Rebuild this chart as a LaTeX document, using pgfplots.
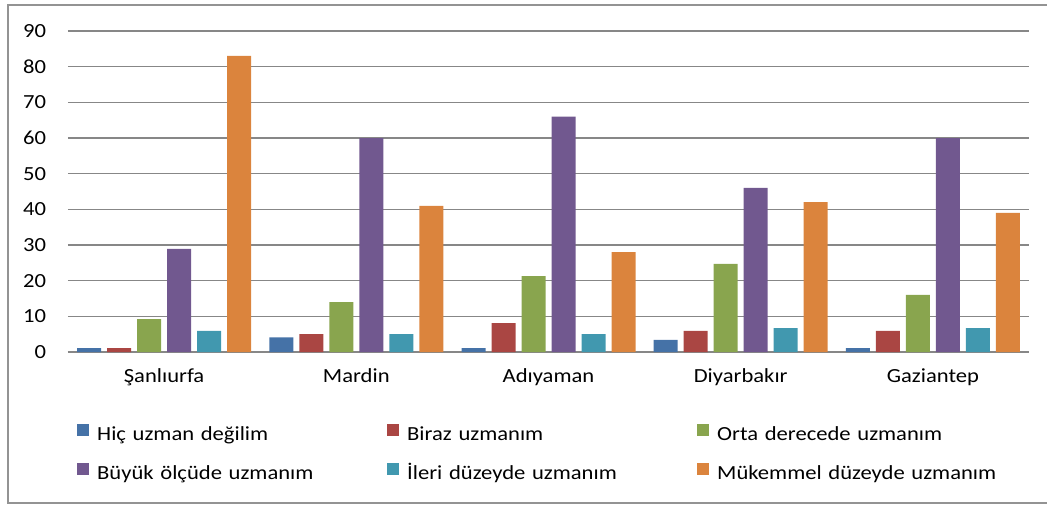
\documentclass[border=0pt]{standalone}
\usepackage{pgfplots}
\pgfplotsset{compat=1.18}
\usepackage{fontspec}
\setmainfont{Carlito}[FakeStretch=1.13]
\definecolor{c1}{HTML}{4572A7}
\definecolor{c2}{HTML}{AA4643}
\definecolor{c3}{HTML}{89A54E}
\definecolor{c4}{HTML}{71588F}
\definecolor{c5}{HTML}{4198AF}
\definecolor{c6}{HTML}{DB843D}
\definecolor{gridc}{HTML}{878787}
\begin{document}
\fontsize{20}{24}\selectfont
\begin{tikzpicture}[x=1pt,y=1pt]
\path[use as bounding box] (0,0) rectangle (1047,504);
\draw[color=gridc!90, line width=1.5pt] (1047,499) -- (8,499) -- (8,1) -- (1047,1);
\begin{axis}[
  at={(68pt,152pt)}, anchor=south west,
  scale only axis, width=961pt, height=321pt,
  xmin=-0.5, xmax=4.5, ymin=0, ymax=90,
  ybar=6pt, bar width=24pt,
  xtick=data, xticklabels={Şanlıurfa,Mardin,Adıyaman,Diyarbakır,Gaziantep},
  ytick={0,10,...,90},
  major tick length=0pt,
  ymajorgrids, grid style={draw=gridc, line width=1.3pt},
  axis x line*=bottom, axis y line*=left,
  x axis line style={draw=gridc, line width=1.3pt, -},
  y axis line style={draw=none},
  /pgf/number format/assume math mode=true,
  tick label style={font=\fontsize{20}{24}\selectfont, text=black},
  xticklabel style={yshift=-10pt},
  yticklabel style={xshift=-15pt},
  legend columns=3,
  legend cell align=left,
  legend style={at={(axis description cs:0,0)}, anchor=north west, xshift=9pt, yshift=-72pt,
    draw=none, fill=none, inner sep=0pt, row sep=17pt,
    font=\fontsize{20}{24}\selectfont,
    nodes={inner sep=0pt, text height=14pt, text depth=5pt, text width=282pt, align=left}},
  /tikz/every odd column/.append style={column sep=8pt},
  /tikz/every even column/.append style={column sep=8pt},
  legend image code/.code={\fill[#1] (0pt,0pt) rectangle (12pt,12pt);},
]
\addplot[fill=c1, draw=none] coordinates {(0,1.1) (1,4.1) (2,1.1) (3,3.4) (4,1.1)};
\addplot[fill=c2, draw=none] coordinates {(0,1.1) (1,5.0) (2,8.1) (3,5.9) (4,5.9)};
\addplot[fill=c3, draw=none] coordinates {(0,9.2) (1,14) (2,21.3) (3,24.7) (4,16)};
\addplot[fill=c4, draw=none] coordinates {(0,28.9) (1,60) (2,66) (3,46) (4,60)};
\addplot[fill=c5, draw=none] coordinates {(0,5.9) (1,5.0) (2,5.0) (3,6.7) (4,6.7)};
\addplot[fill=c6, draw=none] coordinates {(0,83) (1,41) (2,28) (3,42) (4,39)};
\legend{Hiç uzman değilim, Biraz uzmanım, Orta derecede uzmanım, Büyük ölçüde uzmanım, İleri düzeyde uzmanım, Mükemmel düzeyde uzmanım}
\end{axis}
\end{tikzpicture}
\end{document}
